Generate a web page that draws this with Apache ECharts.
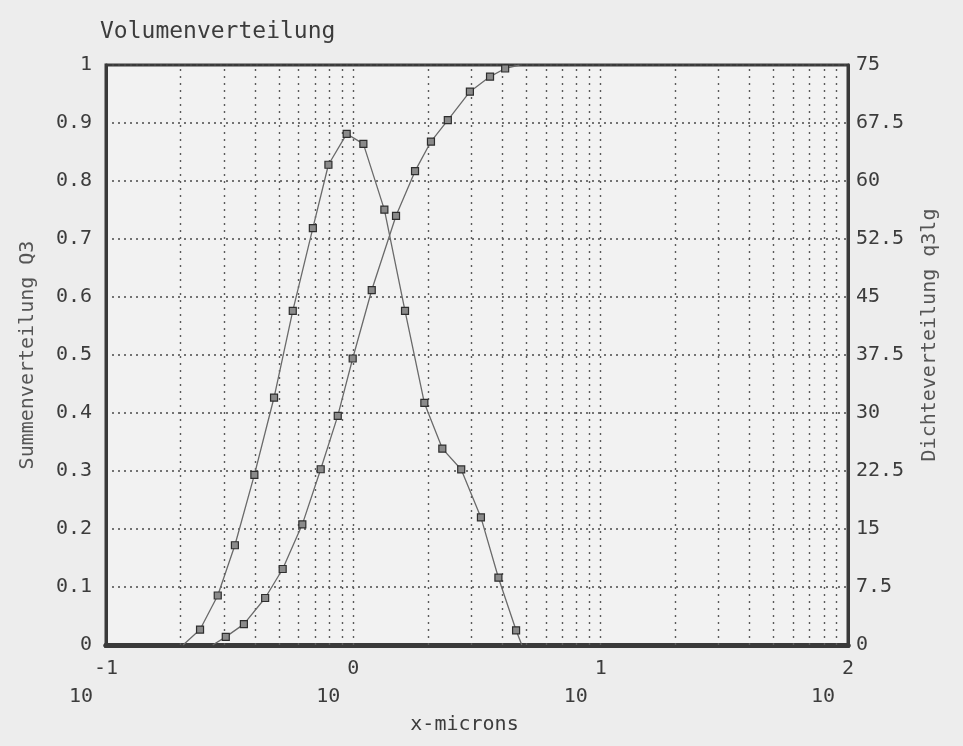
<!DOCTYPE html>
<html>
<head>
<meta charset="utf-8">
<script src="https://cdn.jsdelivr.net/npm/echarts@6/dist/echarts.min.js"></script>
<style>
html,body{margin:0;padding:0;background:#ededed;}
#c{width:963px;height:746px;}
</style>
</head>
<body>
<div id="c"></div>
<script>
// ---- data ----
const titleText = 'Volumenverteilung';
const xName = 'x-microns';
const leftName = 'Summenverteilung Q3';
const rightName = 'Dichteverteilung q3lg';

// cumulative distribution Q3 (left axis)
const cumX = [0.27, 0.305, 0.361, 0.440, 0.518, 0.622, 0.738, 0.865, 0.994, 1.187, 1.488, 1.776, 2.06, 2.41, 2.96, 3.57, 4.11, 4.7];
const cumY = [0, 0.014, 0.036, 0.081, 0.131, 0.208, 0.303, 0.395, 0.494, 0.612, 0.740, 0.817, 0.868, 0.905, 0.954, 0.980, 0.994, 1.0];

// density distribution q3lg (right axis)
const densX = [0.205, 0.240, 0.283, 0.332, 0.398, 0.478, 0.569, 0.686, 0.793, 0.940, 1.098, 1.335, 1.618, 1.937, 2.29, 2.73, 3.28, 3.86, 4.55, 4.80];
const densY = [0, 2.0, 6.4, 12.9, 22.0, 32.0, 43.2, 53.9, 62.1, 66.1, 64.8, 56.3, 43.2, 31.3, 25.4, 22.7, 16.5, 8.7, 1.9, 0];

// axis ranges
const xMin = 0.1, xMax = 100;
const leftMin = 0, leftMax = 1, leftStep = 0.1;
const rightMin = 0, rightMax = 75, rightStep = 7.5;

// ---- build ----
const FONT = 'DejaVu Sans Mono';
const INK = '#3c3c3c';

function pts(xs, ys, hideEnds) {
  return xs.map((x, i) => {
    const item = { value: [x, ys[i]] };
    if (hideEnds && (i === 0 || i === xs.length - 1) && (ys[i] === 0 || ys[i] === 1)) {
      item.symbol = 'none';
    }
    return item;
  });
}

// log grid lines 2..9 per decade and decade lines
const vLines = [];
for (let d = xMin; d < xMax; d *= 10) {
  for (let k = 1; k <= 9; k++) {
    const v = +(d * k).toPrecision(3);
    if (v > xMin && v < xMax) vLines.push({ xAxis: v });
  }
}

const chart = echarts.init(document.getElementById('c'), null, { renderer: 'canvas' });

const symStyle = { color: '#8a8a8a', borderColor: '#2e2e2e', borderWidth: 1.2 };
const lineStyle = { color: '#6a6a6a', width: 1.3 };

chart.setOption({
  animation: false,
  backgroundColor: '#ededed',
  textStyle: { fontFamily: FONT, color: INK },
  title: {
    text: titleText,
    left: 95, top: 16,
    textStyle: { fontFamily: FONT, fontSize: 23, fontWeight: 'normal', color: INK }
  },
  grid: {
    left: 106, right: 115, top: 65, bottom: 101,
    show: true, backgroundColor: '#f2f2f2',
    borderColor: '#3a3a3a', borderWidth: 3
  },
  xAxis: [{
    type: 'log', logBase: 10, min: xMin, max: xMax,
    name: xName, nameLocation: 'middle', nameGap: 70,
    nameTextStyle: { fontFamily: FONT, fontSize: 20, color: INK, padding: [0, 25, 0, 0] },
    axisLine: { show: true, lineStyle: { color: '#3a3a3a', width: 5 } },
    axisTick: { show: false },
    splitLine: { show: false },
    axisLabel: {
      margin: 10,
      formatter: function (v) {
        const e = Math.round(Math.log10(v));
        return '{sp| }{e|' + e + '}{sp| }\n{b|10}{sp2| }';
      },
      rich: {
        sp: { width: 30, fontSize: 20, fontFamily: FONT },
        e: { width: 20, align: 'center', fontSize: 20, fontFamily: FONT, color: INK, lineHeight: 28 },
        b: { width: 30, align: 'right', fontSize: 20, fontFamily: FONT, color: INK, lineHeight: 28 },
        sp2: { width: 50, fontSize: 20, fontFamily: FONT }
      }
    }
  }, {
    type: 'log', logBase: 10, min: xMin, max: xMax, position: 'top',
    axisLine: { show: true, lineStyle: { color: '#3a3a3a', width: 5 } },
    axisTick: { show: false }, axisLabel: { show: false }, splitLine: { show: false }
  }],
  yAxis: [{
    type: 'value', min: leftMin, max: leftMax, interval: leftStep,
    name: leftName, nameLocation: 'middle', nameGap: 68, nameRotate: 90,
    nameTextStyle: { fontFamily: FONT, fontSize: 20, color: '#555' },
    axisLine: { show: true, lineStyle: { color: '#3a3a3a', width: 3 } },
    axisTick: { show: false },
    axisLabel: { fontFamily: FONT, fontSize: 20, color: INK, margin: 14 },
    splitLine: { show: true, lineStyle: { color: '#4a4a4a', width: 1.6, type: [2, 4] } }
  }, {
    type: 'value', min: rightMin, max: rightMax, interval: rightStep,
    name: rightName, nameLocation: 'middle', nameGap: 72, nameRotate: 90,
    nameTextStyle: { fontFamily: FONT, fontSize: 20, color: '#555', padding: [0, 0, 0, 40] },
    axisLine: { show: true, lineStyle: { color: '#3a3a3a', width: 3 } },
    axisTick: { show: false },
    axisLabel: { fontFamily: FONT, fontSize: 20, color: INK, margin: 8 },
    splitLine: { show: false }
  }],
  series: [{
    name: leftName, type: 'line', xAxisIndex: 0, yAxisIndex: 0,
    data: pts(cumX, cumY, true),
    symbol: 'rect', symbolSize: 7, showAllSymbol: true,
    lineStyle: lineStyle, itemStyle: symStyle,
    z: 5,
    markLine: {
      silent: true, symbol: 'none', animation: false,
      label: { show: false },
      lineStyle: { color: '#5a5a5a', width: 1.4, type: [2, 5] },
      data: vLines
    }
  }, {
    name: rightName, type: 'line', xAxisIndex: 0, yAxisIndex: 1,
    data: pts(densX, densY, true),
    symbol: 'rect', symbolSize: 7, showAllSymbol: true,
    lineStyle: lineStyle, itemStyle: symStyle,
    z: 5
  }]
});
</script>
</body>
</html>
